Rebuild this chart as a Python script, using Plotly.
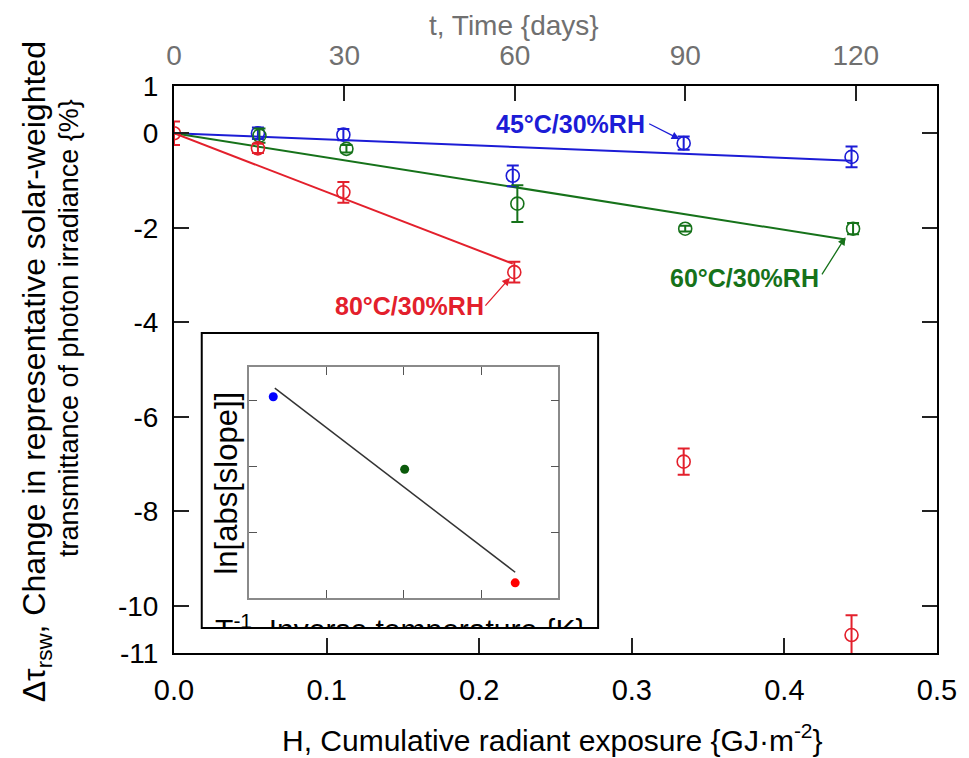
import plotly.graph_objects as go

# ---------------- data ----------------
H_45 = [0.055, 0.111, 0.222, 0.334, 0.444]
dT_45 = [0.0, -0.03, -0.90, -0.21, -0.50]
err_45 = [0.12, 0.12, 0.22, 0.14, 0.22]

H_60 = [0.056, 0.113, 0.225, 0.335, 0.445]
dT_60 = [-0.05, -0.33, -1.49, -2.02, -2.02]
err_60 = [0.15, 0.08, 0.39, 0.06, 0.12]

H_80 = [0.0, 0.055, 0.111, 0.223, 0.334, 0.444]
dT_80 = [0.0, -0.32, -1.25, -2.94, -6.95, -10.62]
err_80 = [0.25, 0.1, 0.22, 0.22, 0.28, 0.42]

fit45_x = [0.0, 0.444]
fit45_y = [0.0, -0.58]
fit60_x = [0.0, 0.44]
fit60_y = [0.0, -2.25]
fit80_x = [0.0, 0.222]
fit80_y = [0.0, -2.76]

days_ticks = [0, 30, 60, 90, 120]
H_ticks = [0.0, 0.1, 0.2, 0.3, 0.4, 0.5]
y_ticks = [1, 0, -2, -4, -6, -8, -10, -11]

# inset (arbitrary units, no tick labels shown)
inv_T = [0.31, 2.01, 3.44]
ln_slope = [3.05, 1.95, 0.23]
inset_fit_x = [0.33, 3.44]
inset_fit_y = [3.18, 0.39]

BLUE = "#1c1cd6"
GREEN = "#16721a"
RED = "#e3202c"
FONT = "Liberation Sans, Arial, sans-serif"

fig = go.Figure()

# fit lines
for fx, fy, c in [(fit45_x, fit45_y, BLUE), (fit60_x, fit60_y, GREEN), (fit80_x, fit80_y, RED)]:
    fig.add_trace(go.Scatter(x=fx, y=fy, mode="lines", line=dict(color=c, width=2),
                             showlegend=False, hoverinfo="skip"))

# data points with error bars
for hx, dy, er, c in [(H_45, dT_45, err_45, BLUE), (H_60, dT_60, err_60, GREEN), (H_80, dT_80, err_80, RED)]:
    fig.add_trace(go.Scatter(
        x=hx, y=dy, mode="markers",
        marker=dict(symbol="circle-open", size=13, color=c, line=dict(width=1.6, color=c)),
        error_y=dict(type="data", array=er, visible=True, color=c, thickness=2, width=6),
        showlegend=False, cliponaxis=True))

# dummy trace for the top (days) axis
fig.add_trace(go.Scatter(x=days_ticks, y=[None] * len(days_ticks), xaxis="x2", yaxis="y",
                         mode="markers", showlegend=False, hoverinfo="skip"))

# inset traces
fig.add_trace(go.Scatter(x=inset_fit_x, y=inset_fit_y, mode="lines", xaxis="x3", yaxis="y3",
                         line=dict(color="#333333", width=1.5), showlegend=False, hoverinfo="skip"))
fig.add_trace(go.Scatter(x=inv_T, y=ln_slope, mode="markers", xaxis="x3", yaxis="y3",
                         marker=dict(size=9, color=["#0000ff", "#0b5a0b", "#ff0000"]),
                         showlegend=False))
# clipped inset x-axis label
fig.add_trace(go.Scatter(x=[0.501], y=[-0.02], mode="text", xaxis="x4", yaxis="y4",
                         text=["T<sup>-1</sup>, Inverse temperature {K}"],
                         textposition="middle center",
                         textfont=dict(family=FONT, size=30, color="black"),
                         cliponaxis=True, showlegend=False, hoverinfo="skip"))

# page body has an 8px margin: build the figure 8px smaller and shift coordinates
OFF = 8
W, Hh = 969 - OFF, 758 - OFF
L, R, T, B = 174 - OFF, 25, 86 - OFF, 105
pw, ph = W - L - R, Hh - T - B


def px2paper_x(px):
    return (px - OFF - L) / pw


def px2paper_y(py):
    return (Hh - B - (py - OFF)) / ph


axis_common = dict(showline=True, linecolor="black", linewidth=2, ticks="inside",
                   ticklen=15, tickwidth=1.5, tickcolor="#222222", showgrid=False, zeroline=False)

fig.update_layout(
    width=W, height=Hh,
    margin=dict(l=L, r=R, t=T, b=B),
    paper_bgcolor="white", plot_bgcolor="rgba(0,0,0,0)",
    font=dict(family=FONT, color="black"),
    xaxis=dict(range=[0, 0.5], tickvals=H_ticks, ticktext=[f"{v:.1f}" for v in H_ticks],
               tickfont=dict(size=29), ticklabelstandoff=10, mirror=False, **axis_common),
    xaxis2=dict(range=[0, 134.3], overlaying="x", side="top", anchor="y", tickvals=days_ticks,
                tickfont=dict(size=28, color="#707070"), ticklabelstandoff=8, **axis_common),
    yaxis=dict(range=[-11, 1], tickvals=y_ticks, ticktext=[str(v) for v in y_ticks],
               tickfont=dict(size=28), ticklabelstandoff=8, mirror="ticks", **axis_common),
    xaxis3=dict(domain=[px2paper_x(250), px2paper_x(562)], anchor="y3", range=[0, 4],
                tickvals=[1, 2, 3], showticklabels=False, showline=True, mirror="ticks",
                linecolor="#8a8a8a", linewidth=1.5, ticks="inside", ticklen=8,
                tickcolor="#555555", showgrid=False, zeroline=False),
    yaxis3=dict(domain=[px2paper_y(598), px2paper_y(367)], anchor="x3", range=[0, 3.5],
                tickvals=[1, 2, 3], showticklabels=False, showline=True, mirror="ticks",
                linecolor="#8a8a8a", linewidth=1.5, ticks="inside", ticklen=8,
                tickcolor="#555555", showgrid=False, zeroline=False),
    xaxis4=dict(domain=[px2paper_x(203), px2paper_x(601)], anchor="y4", range=[0, 1],
                visible=False, fixedrange=True),
    yaxis4=dict(domain=[px2paper_y(627), px2paper_y(334)], anchor="x4", range=[0, 1],
                visible=False, fixedrange=True),
    showlegend=False,
)

# inset box
fig.add_shape(type="rect", xref="paper", yref="paper",
              x0=px2paper_x(202), x1=px2paper_x(602), y0=px2paper_y(628), y1=px2paper_y(333),
              line=dict(color="black", width=2), fillcolor="rgba(0,0,0,0)", layer="above")

ann = []
# axis titles
ann.append(dict(text="H, Cumulative radiant exposure {GJ·m<sup>-2</sup>}", xref="paper", yref="paper",
                x=px2paper_x(556), y=px2paper_y(738), showarrow=False, xanchor="center", yanchor="middle",
                font=dict(size=30, family=FONT, color="black")))
ann.append(dict(text="t, Time {days}", xref="paper", yref="paper",
                x=px2paper_x(517), y=px2paper_y(25), showarrow=False, xanchor="center", yanchor="middle",
                font=dict(size=28, family=FONT, color="#707070")))
ann.append(dict(text="Δτ<sub>rsw</sub>, Change in representative solar-weighted", xref="paper", yref="paper",
                x=px2paper_x(35), y=px2paper_y(372), showarrow=False, textangle=-90,
                xanchor="center", yanchor="middle", font=dict(size=32, family=FONT, color="black")))
ann.append(dict(text="transmittance of photon irradiance {%}", xref="paper", yref="paper",
                x=px2paper_x(68), y=px2paper_y(328), showarrow=False, textangle=-90,
                xanchor="center", yanchor="middle", font=dict(size=27, family=FONT, color="black")))
# inset y label
ann.append(dict(text="ln[abs[slope]]", xref="paper", yref="paper",
                x=px2paper_x(226), y=px2paper_y(483), showarrow=False, textangle=-90,
                xanchor="center", yanchor="middle", font=dict(size=31, family=FONT, color="black")))

# series labels
for txt, xh, yv, c in [("45°C/30%RH", 0.2597, 0.196, BLUE),
                       ("60°C/30%RH", 0.374, -3.06, GREEN),
                       ("80°C/30%RH", 0.1545, -3.66, RED)]:
    ann.append(dict(text=f"<b>{txt}</b>", x=xh, y=yv, xref="x", yref="y", showarrow=False,
                    xanchor="center", yanchor="middle", font=dict(size=25, family=FONT, color=c)))

# arrows
for tx, ty, hx, hy, c in [(0.3104, 0.217, 0.3312, -0.122, BLUE),
                          (0.424, -3.02, 0.440, -2.20, GREEN),
                          (0.2032, -3.68, 0.2201, -3.06, RED)]:
    ann.append(dict(text="", x=hx, y=hy, xref="x", yref="y", ax=tx, ay=ty, axref="x", ayref="y",
                    showarrow=True, arrowhead=2, arrowsize=1.2, arrowwidth=1.3, arrowcolor=c,
                    standoff=0, startstandoff=0))

fig.update_layout(annotations=ann)

fig.write_html("out.html")
